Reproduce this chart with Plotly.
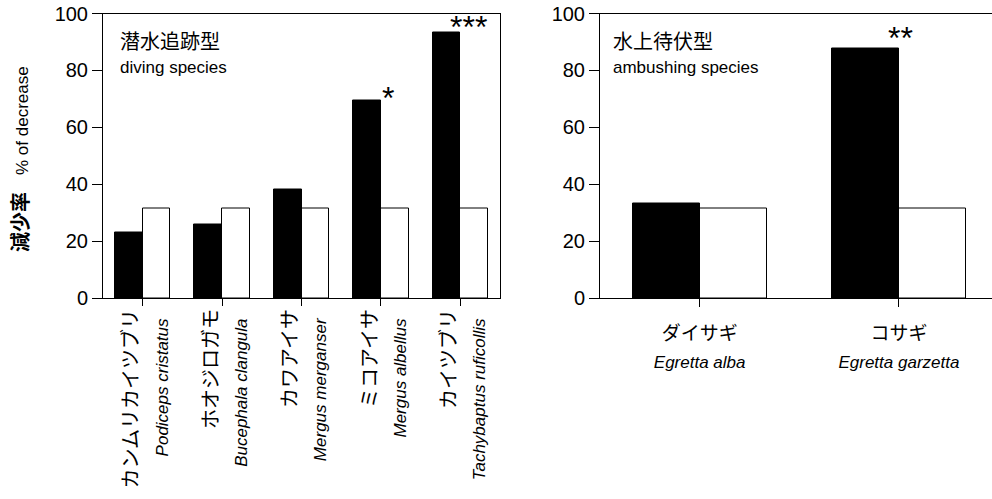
import plotly.graph_objects as go

# ---- data ---------------------------------------------------------------
diving_jp = ["カンムリカイツブリ", "ホオジロガモ", "カワアイサ", "ミコアイサ", "カイツブリ"]
diving_latin = ["Podiceps cristatus", "Bucephala clangula", "Mergus merganser",
                "Mergus albellus", "Tachybaptus ruficollis"]
diving_observed = [23.2, 25.9, 38.3, 69.3, 93.2]
diving_expected = [31.3, 31.3, 31.3, 31.3, 31.3]
diving_signif = ["", "", "", "*", "***"]

ambush_jp = ["ダイサギ", "コサギ"]
ambush_latin = ["Egretta alba", "Egretta garzetta"]
ambush_observed = [33.1, 87.8]
ambush_expected = [31.3, 31.3]
ambush_signif = ["", "**"]

y_ticks = [0, 20, 40, 60, 80, 100]

# ---- layout helpers -----------------------------------------------------
W, H = 992, 499
LATIN = "Liberation Sans, Arial, Noto Sans CJK JP, sans-serif"
CJK = "Noto Sans CJK JP, sans-serif"


def px(x):
    return x / W


def py(y):
    return 1 - y / H


fig = go.Figure()

# diving species (left panel)
bw_left = 0.35
fig.add_trace(go.Bar(x=list(range(len(diving_observed))), y=diving_observed,
                     width=bw_left, offset=-bw_left,
                     marker=dict(color="black", line=dict(color="black", width=1)),
                     xaxis="x", yaxis="y", showlegend=False))
fig.add_trace(go.Bar(x=list(range(len(diving_expected))), y=diving_expected,
                     width=bw_left, offset=0,
                     marker=dict(color="white", line=dict(color="black", width=1)),
                     xaxis="x", yaxis="y", showlegend=False))

# ambushing species (right panel)
bw_right = 0.336
fig.add_trace(go.Bar(x=list(range(len(ambush_observed))), y=ambush_observed,
                     width=bw_right, offset=-bw_right,
                     marker=dict(color="black", line=dict(color="black", width=1)),
                     xaxis="x2", yaxis="y2", showlegend=False))
fig.add_trace(go.Bar(x=list(range(len(ambush_expected))), y=ambush_expected,
                     width=bw_right, offset=0,
                     marker=dict(color="white", line=dict(color="black", width=1)),
                     xaxis="x2", yaxis="y2", showlegend=False))

# rotated labels: the latin line gets a little trailing room so both lines
# end at the same distance from the axis
left_ticktext = [
    f"<span style='font-size:20px'>{jp}</span><br>"
    f"<span style='font-size:17px'><i>{la}</i>\u00a0\u00a0</span>"
    for jp, la in zip(diving_jp, diving_latin)
]
right_ticktext = [
    f"<span style='font-size:19px'>{jp}</span><br>"
    f"<span style='font-size:17px'><i>{la}</i></span>"
    for jp, la in zip(ambush_jp, ambush_latin)
]

y_dom = [py(298), py(13.5)]
axis_common = dict(showline=True, linecolor="black", linewidth=1,
                   showgrid=False, zeroline=False, ticks="outside",
                   tickcolor="black", tickwidth=1, automargin=False)

fig.update_layout(
    width=W, height=H,
    margin=dict(l=0, r=0, t=0, b=0),
    paper_bgcolor="white", plot_bgcolor="white",
    font=dict(family=LATIN, color="black"),
    xaxis=dict(domain=[px(103), px(500)], range=[-0.5, len(diving_observed) - 0.5],
               tickmode="array", tickvals=list(range(len(diving_jp))),
               ticktext=left_ticktext, tickangle=-90, tickson="boundaries",
               ticklen=7, mirror=True, anchor="y",
               tickfont=dict(size=22.5, family=LATIN), ticklabelstandoff=-6,
               ticklabelshift=3,
               **axis_common),
    yaxis=dict(domain=y_dom, range=[0, 100], tickvals=y_ticks, ticklen=10,
               mirror=True, anchor="x", tickfont=dict(size=20, family=LATIN),
               **axis_common),
    xaxis2=dict(domain=[px(600), 1.0], range=[-0.5, -0.5 + 392 / 199.3],
                tickmode="array", tickvals=list(range(len(ambush_jp))),
                ticktext=right_ticktext, tickangle=0, tickson="boundaries",
                ticklen=8, mirror=True, anchor="y2",
                tickfont=dict(size=21.5, family=LATIN), ticklabelstandoff=7,
                **axis_common),
    yaxis2=dict(domain=y_dom, range=[0, 100], tickvals=y_ticks, ticklen=10,
                mirror=False, anchor="x2", tickfont=dict(size=20, family=LATIN),
                **axis_common),
    bargap=0, barmode="overlay",
)

annotations = [
    # panel headings
    dict(text="潜水追跡型", x=px(118), y=py(41), xanchor="left", yanchor="middle",
         font=dict(size=20, family=CJK)),
    dict(text="diving species", x=px(118), y=py(67), xanchor="left", yanchor="middle",
         font=dict(size=17, family=LATIN)),
    dict(text="水上待伏型", x=px(611), y=py(41), xanchor="left", yanchor="middle",
         font=dict(size=20, family=CJK)),
    dict(text="ambushing species", x=px(611), y=py(67), xanchor="left", yanchor="middle",
         font=dict(size=17, family=LATIN)),
    # y axis title
    dict(text="<span style='font-size:20px'><b>減少率</b></span>　% of decrease",
         x=px(20), y=py(159), xanchor="center", yanchor="middle", textangle=-90,
         font=dict(size=17, family=LATIN)),
]
for a in annotations:
    a.update(xref="paper", yref="paper", showarrow=False)

# significance markers above the observed bars
star_shift = {"*": (7, -17), "**": (2, -10), "***": (8, -14)}
for i, (mark, val) in enumerate(zip(diving_signif, diving_observed)):
    if mark:
        dx, dy = star_shift[mark]
        annotations.append(dict(text=mark, x=i, y=val, xref="x", yref="y",
                                xanchor="center", yanchor="bottom", showarrow=False,
                                xshift=dx, yshift=dy, font=dict(size=32, family=LATIN)))
for i, (mark, val) in enumerate(zip(ambush_signif, ambush_observed)):
    if mark:
        dx, dy = star_shift[mark]
        annotations.append(dict(text=mark, x=i, y=val, xref="x2", yref="y2",
                                xanchor="center", yanchor="bottom", showarrow=False,
                                xshift=dx, yshift=dy, font=dict(size=32, family=LATIN)))

fig.update_layout(annotations=annotations)
fig.write_html("out.html")
